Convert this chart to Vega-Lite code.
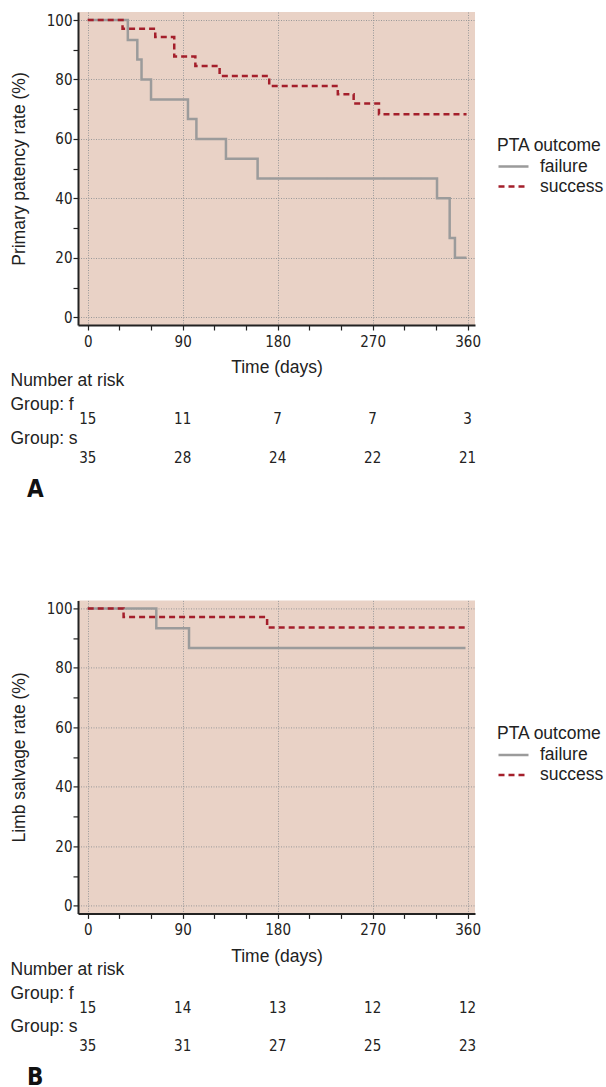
{
  "$schema": "https://vega.github.io/schema/vega-lite/v6.json",
  "padding": {"left": 10, "top": 12, "right": 5, "bottom": 5},
  "background": "white",
  "datasets": {
    "patency": [
      {"group": "failure", "day": 0, "pct": 100},
      {"group": "failure", "day": 38, "pct": 93.3},
      {"group": "failure", "day": 47, "pct": 86.7},
      {"group": "failure", "day": 51, "pct": 80},
      {"group": "failure", "day": 60, "pct": 73.3},
      {"group": "failure", "day": 95, "pct": 66.7},
      {"group": "failure", "day": 103, "pct": 60},
      {"group": "failure", "day": 131, "pct": 53.3},
      {"group": "failure", "day": 161, "pct": 46.7},
      {"group": "failure", "day": 331, "pct": 40},
      {"group": "failure", "day": 343, "pct": 26.7},
      {"group": "failure", "day": 348, "pct": 20},
      {"group": "failure", "day": 359, "pct": 20},
      {"group": "success", "day": 0, "pct": 100},
      {"group": "success", "day": 33, "pct": 97.1},
      {"group": "success", "day": 64, "pct": 94.3},
      {"group": "success", "day": 82, "pct": 87.7},
      {"group": "success", "day": 102, "pct": 84.5},
      {"group": "success", "day": 125, "pct": 81.2},
      {"group": "success", "day": 172, "pct": 77.8},
      {"group": "success", "day": 237, "pct": 75},
      {"group": "success", "day": 252, "pct": 71.9},
      {"group": "success", "day": 276, "pct": 68.3},
      {"group": "success", "day": 359, "pct": 68.3}
    ],
    "salvage": [
      {"group": "failure", "day": 0, "pct": 100},
      {"group": "failure", "day": 65, "pct": 93.3},
      {"group": "failure", "day": 96, "pct": 86.7},
      {"group": "failure", "day": 358, "pct": 86.7},
      {"group": "success", "day": 0, "pct": 100},
      {"group": "success", "day": 34, "pct": 97.1},
      {"group": "success", "day": 170, "pct": 93.6},
      {"group": "success", "day": 359, "pct": 93.6}
    ],
    "riskA": [
      {"row": "f", "day": 0, "n": 15},
      {"row": "f", "day": 90, "n": 11},
      {"row": "f", "day": 180, "n": 7},
      {"row": "f", "day": 270, "n": 7},
      {"row": "f", "day": 360, "n": 3},
      {"row": "s", "day": 0, "n": 35},
      {"row": "s", "day": 90, "n": 28},
      {"row": "s", "day": 180, "n": 24},
      {"row": "s", "day": 270, "n": 22},
      {"row": "s", "day": 360, "n": 21}
    ],
    "riskB": [
      {"row": "f", "day": 0, "n": 15},
      {"row": "f", "day": 90, "n": 14},
      {"row": "f", "day": 180, "n": 13},
      {"row": "f", "day": 270, "n": 12},
      {"row": "f", "day": 360, "n": 12},
      {"row": "s", "day": 0, "n": 35},
      {"row": "s", "day": 90, "n": 31},
      {"row": "s", "day": 180, "n": 27},
      {"row": "s", "day": 270, "n": 25},
      {"row": "s", "day": 360, "n": 23}
    ]
  },
  "config": {
    "view": {"stroke": null},
    "font": "Liberation Sans",
    "axis": {
      "labelFont": "DejaVu Sans Condensed, Liberation Sans", "labelFontSize": 15, "labelColor": "#222",
      "titleFont": "Liberation Sans", "titleFontSize": 17.5, "titleFontWeight": "normal", "titleColor": "#222",
      "domainColor": "#222", "domainWidth": 2, "tickColor": "#222", "tickSize": 5, "tickWidth": 1.2,
      "gridColor": "#999999", "gridDash": [1, 1.5], "gridWidth": 1
    },
    "legend": {
      "titleFont": "Liberation Sans", "titleFontSize": 17.5, "titleFontWeight": "normal", "titleColor": "#222",
      "labelFont": "Liberation Sans", "labelFontSize": 17.5, "labelColor": "#222",
      "symbolType": "stroke", "symbolSize": 900, "symbolStrokeWidth": 2.5, "clipHeight": 20, "rowPadding": 0,
      "labelOffset": 10, "titlePadding": 2
    }
  },
  "bounds": "flush",
  "spacing": 55.7,
  "resolve": {"scale": {"color": "independent", "strokeDash": "independent"}, "legend": {"color": "independent", "strokeDash": "independent"}},
  "vconcat": [
    {
      "width": 397, "height": 313,
      "view": {"fill": "#E9D2C6", "stroke": null},
      "data": {"name": "patency"},
      "mark": {"type": "line", "interpolate": "step-after", "strokeWidth": 2.5},
      "encoding": {
        "x": {"field": "day", "type": "quantitative",
          "scale": {"domain": [-9.2, 367], "nice": false, "zero": false},
          "axis": {"title": "Time (days)", "values": [0, 30, 60, 90, 120, 150, 180, 210, 240, 270, 300, 330, 360],
            "labelExpr": "datum.value % 90 === 0 ? datum.label : ''", "labelPadding": 4, "titlePadding": 9,
            "gridOpacity": {"condition": {"test": "datum.value % 90 === 0", "value": 1}, "value": 0}}},
        "y": {"field": "pct", "type": "quantitative",
          "scale": {"domain": [-2.6, 102.7], "nice": false, "zero": false},
          "axis": {"title": "Primary patency rate (%)", "values": [0, 10, 20, 30, 40, 50, 60, 70, 80, 90, 100],
            "labelExpr": "datum.value % 20 === 0 ? datum.label : ''", "labelPadding": 1, "titlePadding": 18,
            "gridOpacity": {"condition": {"test": "datum.value % 20 === 0", "value": 1}, "value": 0}}},
        "color": {"field": "group", "type": "nominal",
          "scale": {"domain": ["failure", "success"], "range": ["#9B9B9B", "#A41F2B"]},
          "legend": {"title": "PTA outcome", "orient": "none", "legendX": 419, "legendY": 125}},
        "strokeDash": {"field": "group", "type": "nominal",
          "scale": {"domain": ["failure", "success"], "range": [[1, 0], [6, 4]]},
          "legend": {"title": "PTA outcome", "orient": "none", "legendX": 419, "legendY": 125}}
      }
    },
    {
      "width": 397, "height": 163.6,
      "data": {"name": "riskA"},
      "mark": {"type": "text", "font": "DejaVu Sans Condensed, Liberation Sans", "fontSize": 15, "color": "#222"},
      "title": {"text": "A", "orient": "bottom", "anchor": "start", "dx": 17, "offset": -54.3, "baseline": "middle",
        "font": "DejaVu Sans Condensed, Liberation Sans", "fontWeight": "bold", "fontSize": 24, "color": "#111"},
      "encoding": {
        "x": {"field": "day", "type": "quantitative", "scale": {"domain": [-9.2, 367], "nice": false, "zero": false}, "axis": null},
        "y": {"field": "row", "type": "nominal",
          "scale": {"type": "point", "domain": ["Number at risk", "Group: f", "f", "Group: s", "s", "r6", "r7", "r8", "r9"], "padding": 0.25, "align": 0},
          "axis": {"title": null, "domain": false, "ticks": false, "grid": false, "labelAlign": "left", "labelPadding": 68,
            "labelFont": "Liberation Sans", "labelFontSize": 17.5, "labelColor": "#222",
            "labelOffset": {"condition": {"test": "datum.value === 'Group: f'", "value": 5}, "value": 0},
            "labelExpr": "indexof(['Number at risk', 'Group: f', 'Group: s'], datum.value) >= 0 ? datum.value : ''"}},
        "text": {"field": "n", "type": "quantitative"}
      }
    },
    {
      "width": 397, "height": 313,
      "view": {"fill": "#E9D2C6", "stroke": null},
      "data": {"name": "salvage"},
      "mark": {"type": "line", "interpolate": "step-after", "strokeWidth": 2.5},
      "encoding": {
        "x": {"field": "day", "type": "quantitative",
          "scale": {"domain": [-9.2, 367], "nice": false, "zero": false},
          "axis": {"title": "Time (days)", "values": [0, 30, 60, 90, 120, 150, 180, 210, 240, 270, 300, 330, 360],
            "labelExpr": "datum.value % 90 === 0 ? datum.label : ''", "labelPadding": 4, "titlePadding": 10,
            "gridOpacity": {"condition": {"test": "datum.value % 90 === 0", "value": 1}, "value": 0}}},
        "y": {"field": "pct", "type": "quantitative",
          "scale": {"domain": [-2.6, 102.7], "nice": false, "zero": false},
          "axis": {"title": "Limb salvage rate (%)", "values": [0, 10, 20, 30, 40, 50, 60, 70, 80, 90, 100],
            "labelExpr": "datum.value % 20 === 0 ? datum.label : ''", "labelPadding": 1, "titlePadding": 18,
            "gridOpacity": {"condition": {"test": "datum.value % 20 === 0", "value": 1}, "value": 0}}},
        "color": {"field": "group", "type": "nominal",
          "scale": {"domain": ["failure", "success"], "range": ["#9B9B9B", "#A41F2B"]},
          "legend": {"title": "PTA outcome", "orient": "none", "legendX": 419, "legendY": 125}},
        "strokeDash": {"field": "group", "type": "nominal",
          "scale": {"domain": ["failure", "success"], "range": [[1, 0], [6, 4]]},
          "legend": {"title": "PTA outcome", "orient": "none", "legendX": 419, "legendY": 125}}
      }
    },
    {
      "width": 397, "height": 163.6,
      "data": {"name": "riskB"},
      "mark": {"type": "text", "font": "DejaVu Sans Condensed, Liberation Sans", "fontSize": 15, "color": "#222"},
      "title": {"text": "B", "orient": "bottom", "anchor": "start", "dx": 17, "offset": -54.3, "baseline": "middle",
        "font": "DejaVu Sans Condensed, Liberation Sans", "fontWeight": "bold", "fontSize": 24, "color": "#111"},
      "encoding": {
        "x": {"field": "day", "type": "quantitative", "scale": {"domain": [-9.2, 367], "nice": false, "zero": false}, "axis": null},
        "y": {"field": "row", "type": "nominal",
          "scale": {"type": "point", "domain": ["Number at risk", "Group: f", "f", "Group: s", "s", "r6", "r7", "r8", "r9"], "padding": 0.25, "align": 0},
          "axis": {"title": null, "domain": false, "ticks": false, "grid": false, "labelAlign": "left", "labelPadding": 68,
            "labelFont": "Liberation Sans", "labelFontSize": 17.5, "labelColor": "#222",
            "labelOffset": {"condition": {"test": "datum.value === 'Group: f'", "value": 5}, "value": 0},
            "labelExpr": "indexof(['Number at risk', 'Group: f', 'Group: s'], datum.value) >= 0 ? datum.value : ''"}},
        "text": {"field": "n", "type": "quantitative"}
      }
    }
  ]
}
